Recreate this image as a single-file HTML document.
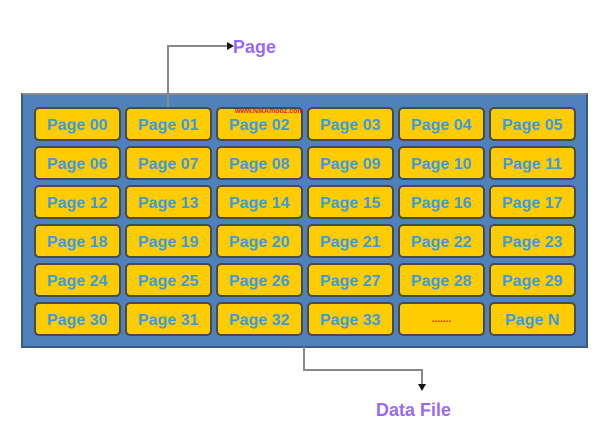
<!DOCTYPE html>
<html><head><style>
body{margin:0;width:599px;height:448px;background:#fff;position:relative;overflow:hidden;font-family:"Liberation Sans",sans-serif}
.outer{position:absolute;left:21px;top:93px;width:563px;height:251px;background:#4f81bd;border:2px solid #3b5a84;border-top-color:#8a8a8a;border-left-color:#3b5a84}
.b{position:absolute;width:83px;height:30px;background:#ffcc00;border:2px solid #4a4a4a;border-radius:5px;color:#3399ee;font-weight:bold;font-size:16px;text-align:center;line-height:34px;box-sizing:content-box}
.lbl{position:absolute;color:#9966ff;font-weight:bold;font-size:18px}
</style></head><body>
<div class="outer"></div>
<div id="g"></div>
<svg width="599" height="448" style="position:absolute;left:0;top:0">
<polyline points="168,107 168,46 228,46" fill="none" stroke="#888" stroke-width="2"/>
<polygon points="234,46 227,42 227,50" fill="#111"/>
<polyline points="304,347 304,370 422,370 422,384" fill="none" stroke="#888" stroke-width="2"/>
<polygon points="422,391 418,384 426,384" fill="#111"/>
</svg>
<div class="lbl" style="left:233px;top:37px">Page</div>
<div class="lbl" style="left:376px;top:400px">Data File</div>
<script>
var g=document.getElementById('g'),h='',n=0;
for(var r=0;r<6;r++)for(var c=0;c<6;c++){
 var t;
 if(r==5&&c==4)t='<span style="color:#e02020;font-size:10px;position:relative;top:-3px">.......</span>';
 else if(r==5&&c==5)t='Page N';
 else{t='Page '+(n<10?'0'+n:n);}
 if(!(r==5&&c>=4))n++;
 h+='<div class="b" style="left:'+(34+c*91)+'px;top:'+(107+r*39)+'px">'+t+'</div>';
}
g.innerHTML=h;
</script>
<div style="position:absolute;left:235px;top:108px;color:#e02020;font-size:7px;font-weight:bold;z-index:2">www.NikAmooz.com</div>
</body></html>
